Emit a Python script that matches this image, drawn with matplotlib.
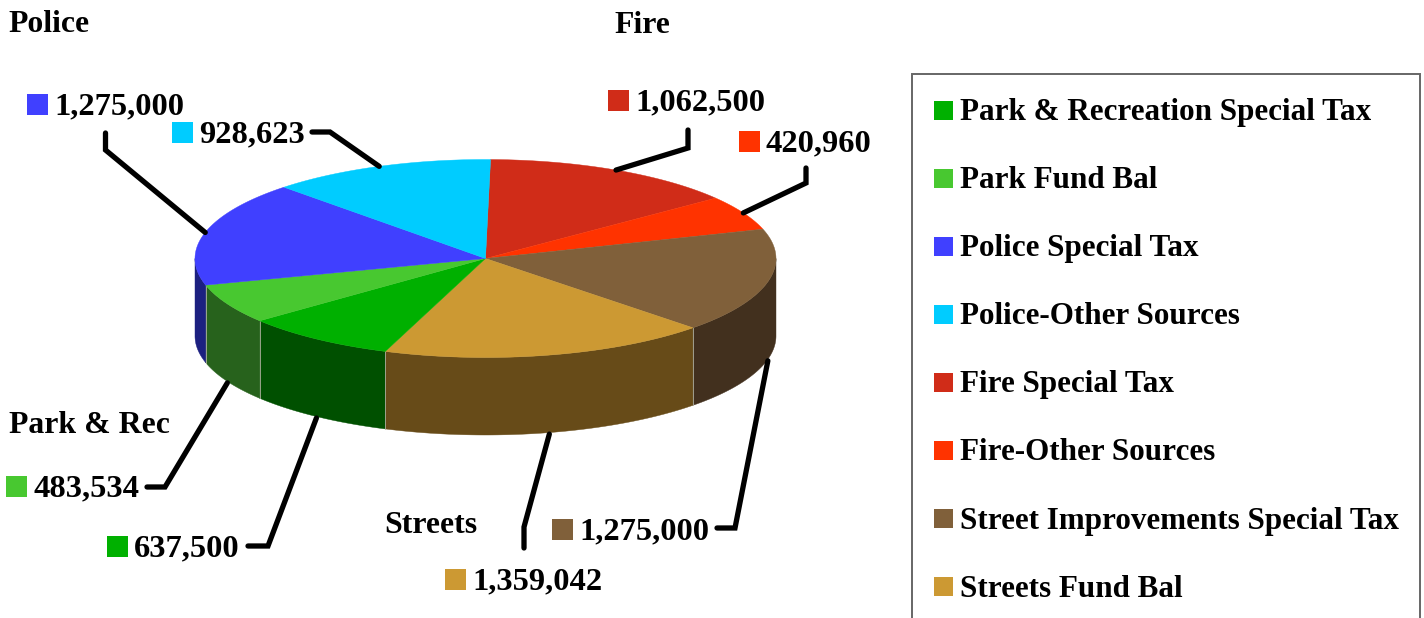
import numpy as np
import matplotlib
matplotlib.use("Agg")
import matplotlib.pyplot as plt
from matplotlib.patches import Polygon, Rectangle

plt.rcParams['font.family'] = ['Liberation Serif', 'DejaVu Serif']

#Slices in clockwise order, starting from the top of the pie
categories = ["Fire Special Tax", "Fire-Other Sources", "Street Improvements Special Tax",
              "Streets Fund Bal", "Park & Recreation Special Tax", "Park Fund Bal",
              "Police Special Tax", "Police-Other Sources"]
values = [1062500, 420960, 1275000, 1359042, 637500, 483534, 1275000, 928623]
top_colors = ["#D02C18", "#FF3300", "#80603A", "#CC9933", "#00B000", "#48C830", "#4040FF", "#00CCFF"]
side_colors = ["#6A1A10", "#802000", "#42301E", "#674B18", "#005000", "#27621C", "#1C2080", "#006880"]

legend_order = ["Park & Recreation Special Tax", "Park Fund Bal", "Police Special Tax",
                "Police-Other Sources", "Fire Special Tax", "Fire-Other Sources",
                "Street Improvements Special Tax", "Streets Fund Bal"]
group_titles = ["Police", "Fire", "Park & Rec", "Streets"]

#Pie geometry in pixels
CX, CY = 485.5, 258.5
RX, RY = 290.5, 99
DEPTH = 77.5
START = 1.0
LEADER_W = 3.8


def rim(angle, depth=0):
    #angle in degrees, clockwise from 12 o'clock
    a = np.radians(angle)
    return CX + RX*np.sin(a), CY - RY*np.cos(a) + depth


fig = plt.figure(figsize=(14.24, 6.18), dpi=100)
ax = fig.add_axes([0, 0, 1, 1])
ax.set_xlim(0, 1424)
ax.set_ylim(618, 0)
ax.axis("off")

sweeps = np.array(values)/sum(values)*360
starts = START + np.concatenate([[0], np.cumsum(sweeps)[:-1]])
mids = starts + sweeps/2

#Side walls, only the front half of the pie shows
for s, w, col in zip(starts, sweeps, side_colors):
    lo, hi = max(s, 90), min(s + w, 270)
    if hi <= lo:
        continue
    t = np.linspace(lo, hi, 80)
    xs, ys = rim(t)
    xb, yb = rim(t[::-1], DEPTH)
    pts = np.column_stack([np.r_[xs, xb], np.r_[ys, yb]])
    ax.add_patch(Polygon(pts, closed=True, fc=col, ec=col, lw=0.3, zorder=2))
    #thin light seam between walls
    if lo > 90:
        x0, y0 = rim(lo)
        x1, y1 = rim(lo, DEPTH)
        ax.plot([x0, x1], [y0, y1], color="#B0B0A0", lw=0.6, zorder=3)

#Top face
for s, w, col in zip(starts, sweeps, top_colors):
    t = np.linspace(s, s + w, 80)
    xs, ys = rim(t)
    pts = np.column_stack([np.r_[CX, xs], np.r_[CY, ys]])
    ax.add_patch(Polygon(pts, closed=True, fc=col, ec=col, lw=0.3, zorder=4))

#Leader elbows and label placement, same order as the slices
leaders = [[(688, 148), (688, 130)], [(806, 183), (806, 168)], [(735, 528), (717, 528)],
           [(524, 527), (524, 548)], [(268, 546), (248, 546)], [(165, 487), (147, 487)],
           [(105.5, 150), (105.5, 133)], [(330, 132), (312, 132)]]
label_pos = [(608, 100), (739, 141.5), (552, 529.5), (445, 579.5),
             (107, 546.5), (6, 486.5), (27, 104.5), (172, 132.5)]

for i, v in enumerate(values):
    depth = DEPTH + 1.5 if 90 < mids[i] < 270 else 0
    p0 = rim(mids[i], depth)
    xs = [p0[0]] + [p[0] for p in leaders[i]]
    ys = [p0[1]] + [p[1] for p in leaders[i]]
    ax.plot(xs, ys, color="black", lw=LEADER_W, solid_capstyle="round",
            solid_joinstyle="miter", zorder=5)
    x, y = label_pos[i]
    ax.add_patch(Rectangle((x, y - 10.5), 21, 21, fc=top_colors[i], ec="none", zorder=6))
    ax.text(x + 27, y - 1, f"{v:,}", fontsize=23.4, fontweight="bold", ha="left",
            va="center_baseline", zorder=6)

#Group titles
title_pos = [(8, 21), (614, 22), (9, 422), (384, 522)]
for name, (x, y) in zip(group_titles, title_pos):
    ax.text(x, y, name, fontsize=22.9, fontweight="bold", ha="left", va="center_baseline")

#Legend box runs off the bottom of the picture
ax.add_patch(Rectangle((911.5, 73.5), 508, 600, fc="white", ec="#666666", lw=1.4, zorder=1))
for i, name in enumerate(legend_order):
    y = 110 + i*68.1
    col = top_colors[categories.index(name)]
    ax.add_patch(Rectangle((934, y - 9.5), 19, 19, fc=col, ec="none", zorder=6))
    ax.text(960, y - 1, name, fontsize=22.4, fontweight="bold", ha="left", va="center_baseline", zorder=6)

fig.savefig("out.png", dpi=100)
plt.close()
